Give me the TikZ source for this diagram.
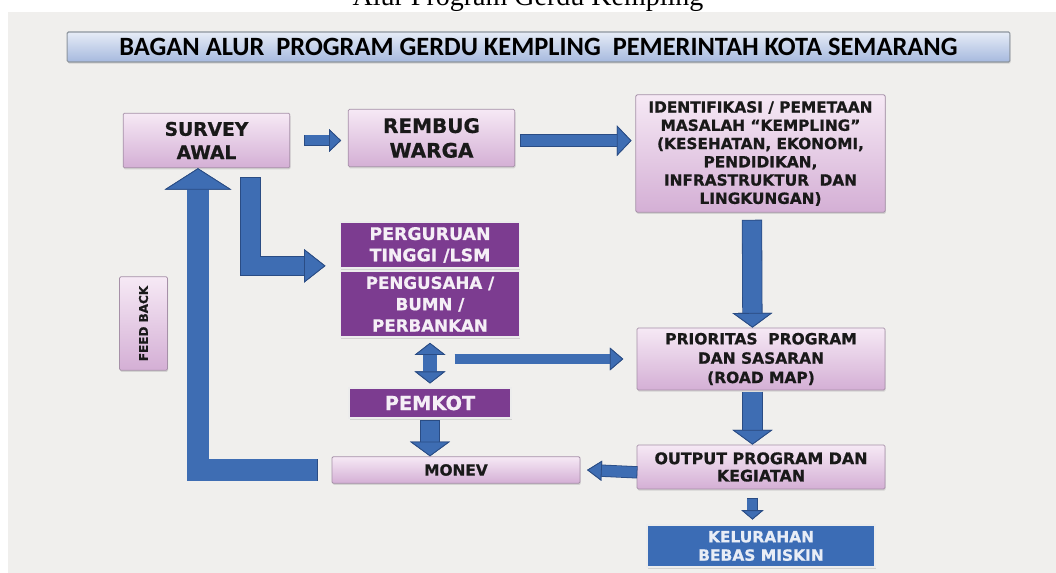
\documentclass[tikz,border=0pt]{standalone}
\usepackage{fontspec}
\usetikzlibrary{arrows.meta,shadows}
\setmainfont{Liberation Serif}
\newfontfamily\boxfont{DejaVu Sans}[BoldFeatures={FakeBold=0.8}]
\newfontfamily\titlefont{Carlito}

\definecolor{panel}{HTML}{F0EFED}
\definecolor{lilactop}{HTML}{F6E9F5}
\definecolor{lilacbot}{HTML}{D4AFD5}
\definecolor{lilacedge}{HTML}{A690A8}
\definecolor{plum}{HTML}{7C3C90}
\definecolor{arrowblue}{HTML}{3E6DB3}
\definecolor{arrowedge}{HTML}{2A4C84}
\definecolor{titletop}{HTML}{E6ECF7}
\definecolor{titlebot}{HTML}{A6B9DE}
\definecolor{titleedge}{HTML}{8D959E}
\definecolor{kelblue}{HTML}{3B6CB5}

\tikzset{
  lilac/.style={draw=lilacedge, line width=0.6pt, top color=lilactop, bottom color=lilacbot,
    rounded corners=1pt, align=center, inner sep=0pt, text=black!90,
    drop shadow={shadow xshift=0.5pt, shadow yshift=-1.2pt, opacity=0.25}},
  plum/.style={draw=white!85!gray, line width=0.8pt, fill=plum, align=center, inner sep=0pt,
    text=white!92!plum, drop shadow={shadow xshift=0.5pt, shadow yshift=-1.2pt, opacity=0.25}},
  fat/.style n args={5}{draw=arrowblue, line width=#1,
    -{Triangle[width=#3, length=#4, fill=arrowblue, color=arrowedge, line width=.6pt]},
    preaction={draw=arrowedge, line width=#2, shorten <=#5,
      -{Triangle[width=#3, length=#4, fill=arrowedge, color=arrowedge, line width=.6pt]}}},
  fatboth/.style n args={4}{draw=arrowblue, line width=#1,
    {Triangle[width=#3, length=#4, fill=arrowblue, color=arrowedge, line width=.6pt]}-{Triangle[width=#3, length=#4, fill=arrowblue, color=arrowedge, line width=.6pt]},
    preaction={draw=arrowedge, line width=#2,
      {Triangle[width=#3, length=#4, fill=arrowedge, color=arrowedge, line width=.6pt]}-{Triangle[width=#3, length=#4, fill=arrowedge, color=arrowedge, line width=.6pt]}}}
}

\begin{document}
\begin{tikzpicture}[x=0.75pt, y=-0.75pt]
% latar
\useasboundingbox (0,0) rectangle (1056,573);
\fill[white] (0,0) rectangle (1056,573);
\fill[panel] (8,12) rectangle (1056,573);
\node[anchor=base, font=\fontsize{21}{25}\selectfont] (cap) at (528,6) {Alur Program Gerdu Kempling};

% judul
\node[draw=titleedge, line width=0.8pt, top color=titletop, bottom color=titlebot, rounded corners=1pt,
  minimum width=707pt, minimum height=22.5pt, inner sep=0pt, font=\titlefont\bfseries\fontsize{19.8}{21}\selectfont,
  drop shadow={shadow xshift=0.5pt, shadow yshift=-1.2pt, opacity=0.25}] (judul) at (538.5,47)
  {BAGAN ALUR\ \ PROGRAM GERDU KEMPLING\ \ PEMERINTAH KOTA SEMARANG};

% kotak
\node[lilac, minimum width=125pt, minimum height=41pt, font=\boxfont\bfseries\fontsize{14}{17.5}\selectfont] (survey) at (206.5,140.5) {SURVEY\\AWAL};
\node[lilac, minimum width=125pt, minimum height=43pt, font=\boxfont\bfseries\fontsize{15}{18.5}\selectfont] (rembug) at (431.5,138) {REMBUG\\WARGA};
\node[lilac, minimum width=187pt, minimum height=88pt, font=\boxfont\bfseries\fontsize{11.5}{13.7}\selectfont] (ident) at (760.5,153.5)
  {IDENTIFIKASI / PEMETAAN\\MASALAH “KEMPLING”\\(KESEHATAN, EKONOMI,\\PENDIDIKAN,\\INFRASTRUKTUR\ \ DAN\\LINGKUNGAN)};
\node[plum, minimum width=134pt, minimum height=34.5pt, font=\boxfont\bfseries\fontsize{13}{16}\selectfont] (perg) at (430,245) {PERGURUAN\\TINGGI /LSM};
\node[plum, minimum width=134pt, minimum height=49.5pt, font=\boxfont\bfseries\fontsize{12.5}{16}\selectfont] (peng) at (430,304) {PENGUSAHA /\\BUMN /\\PERBANKAN};
\node[lilac, minimum width=186pt, minimum height=46.5pt, font=\boxfont\bfseries\fontsize{11.6}{14.5}\selectfont] (prior) at (761,359)
  {PRIORITAS\ \ PROGRAM\\DAN SASARAN\\(ROAD MAP)};
\node[plum, minimum width=121.5pt, minimum height=22.5pt, font=\boxfont\bfseries\fontsize{14.5}{16}\selectfont] (pemkot) at (430,403) {PEMKOT};
\node[lilac, minimum width=186pt, minimum height=20pt, font=\boxfont\bfseries\fontsize{11.5}{13}\selectfont] (monev) at (456,470) {MONEV};
\node[lilac, minimum width=186pt, minimum height=33pt, font=\boxfont\bfseries\fontsize{11.9}{13}\selectfont] (output) at (761,467)
  {OUTPUT PROGRAM DAN\\KEGIATAN};
\node[draw=white!85!gray, line width=0.8pt, fill=kelblue, align=center, inner sep=0pt, text=white!88!kelblue,
  minimum width=171pt, minimum height=31.5pt, font=\boxfont\bfseries\fontsize{11.6}{13.8}\selectfont,
  drop shadow={shadow xshift=0.5pt, shadow yshift=-1.2pt, opacity=0.25}] (kel) at (761,546) {KELURAHAN\\BEBAS MISKIN};
\node[lilac, rotate=90, minimum width=70pt, minimum height=36pt, font=\boxfont\bfseries\fontsize{9}{10}\selectfont] (feed) at (143.5,323.5) {FEED BACK};

% panah
\draw[fat={7.5pt}{8.7pt}{17pt}{9pt}{-.6pt}] ([xshift=11pt]survey.east) -- ([xshift=-5pt]rembug.west |- survey.east);
\draw[fat={8.5pt}{9.7pt}{23pt}{11pt}{-.6pt}] ([xshift=4pt,yshift=-2pt]rembug.east) -- ([xshift=-3pt,yshift=-2pt]ident.west |- rembug.east);
\draw[fat={14pt}{15.2pt}{30pt}{11pt}{-.6pt}] ([xshift=-6.4pt,yshift=-6pt]ident.south) -- ([xshift=-6.4pt]prior.north);
\draw[fat={14pt}{15.2pt}{25pt}{16pt}{-.6pt}] ([xshift=33pt,yshift=-7.5pt]survey.south) |- ([xshift=-11pt,yshift=2pt]perg.south west);
\draw[fat={16pt}{17.2pt}{50pt}{16pt}{-.6pt}] ([xshift=-11pt]monev.west) -| ([xshift=-6.4pt]survey.south);
\draw[fatboth={10pt}{11.2pt}{23pt}{9pt}] ([yshift=-4pt]peng.south) -- ([yshift=3pt]pemkot.north);
\draw[fat={7pt}{8.2pt}{17pt}{10pt}{-.6pt}] ([xshift=19pt]peng.south |- prior.west) -- ([xshift=-10pt]prior.west);
\draw[fat={14pt}{15.2pt}{30pt}{11pt}{-.6pt}] ([xshift=-6.4pt,yshift=-1.5pt]prior.south) -- ([xshift=-6.4pt]output.north);
\draw[fat={13.5pt}{14.7pt}{30pt}{11pt}{-.6pt}] ([yshift=-2pt]pemkot.south) -- (pemkot.south |- monev.north);
\draw[fat={8pt}{9.2pt}{15pt}{11pt}{-.6pt}] ([yshift=-4pt]output.west) -- ([xshift=5pt]monev.east);
\draw[fat={7.5pt}{8.7pt}{16.5pt}{7pt}{-.6pt}] ([xshift=-6.4pt,yshift=-7pt]output.south) -- ([xshift=-6.4pt,yshift=3.7pt]kel.north);
\end{tikzpicture}
\end{document}
